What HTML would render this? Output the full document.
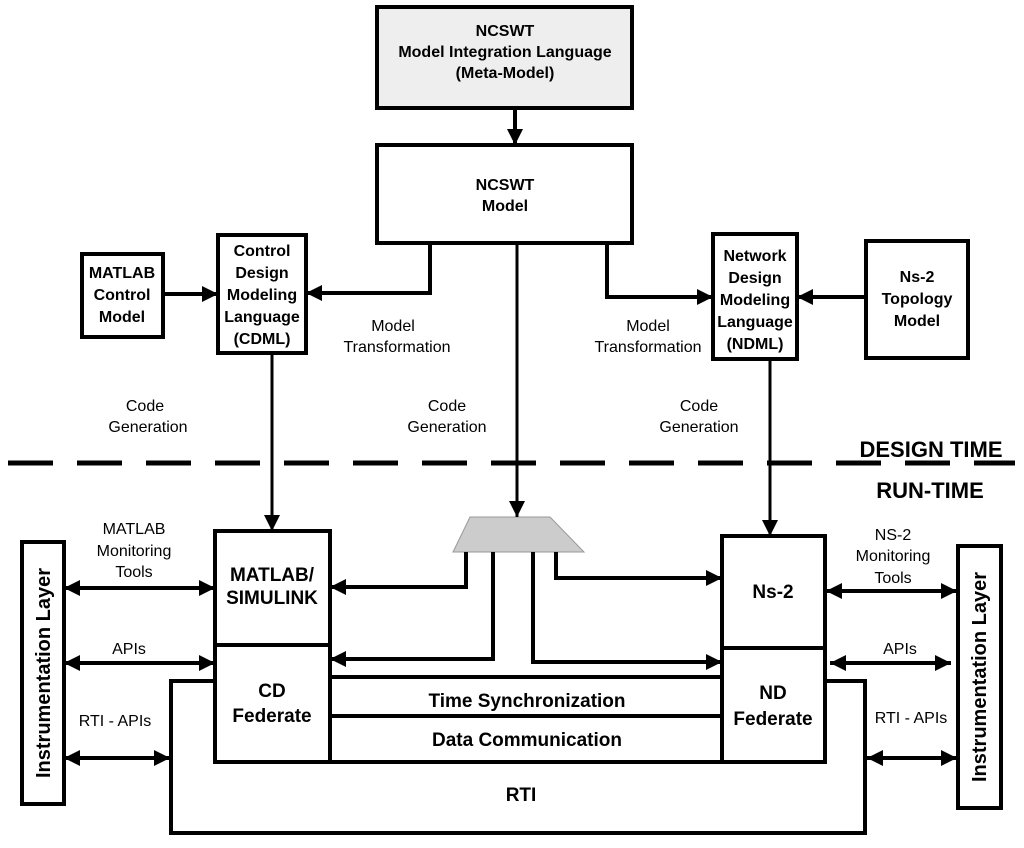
<!DOCTYPE html>
<html><head><meta charset="utf-8"><style>
html,body{margin:0;padding:0;background:#fff;}
svg{display:block;font-family:"Liberation Sans",Arial,sans-serif;}
.b{font-weight:bold;font-size:16px;}
.n{font-size:16px;}
</style></head><body>
<svg width="1024" height="848" viewBox="0 0 1024 848" xmlns="http://www.w3.org/2000/svg">
<defs>
<marker id="A" markerWidth="16" markerHeight="16" refX="16" refY="8" orient="auto-start-reverse" markerUnits="userSpaceOnUse"><path d="M0,0 L16,8 L0,16 z" fill="#000"/></marker>
</defs>
<g fill="none" stroke="#000" stroke-width="4">
<rect x="377" y="7" width="255" height="101" fill="#eeeeee"/>
<rect x="377" y="145" width="255" height="98"/>
<rect x="82" y="254" width="81" height="83"/>
<rect x="218" y="235" width="88" height="118"/>
<rect x="713" y="234" width="84" height="125"/>
<rect x="866" y="241" width="102" height="117"/>
<rect x="22" y="542" width="42" height="262"/>
<rect x="958" y="546" width="43" height="262"/>
<rect x="215" y="531" width="115" height="231"/>
<line x1="215" y1="645" x2="330" y2="645"/>
<rect x="722" y="536" width="103" height="226"/>
<line x1="722" y1="648" x2="825" y2="648"/>
<path d="M215,681 H171 V833 H865 V681 H825"/>
<line x1="330" y1="677" x2="722" y2="677"/>
<line x1="330" y1="716" x2="722" y2="716"/>
<line x1="330" y1="762" x2="722" y2="762"/>
</g>
<polygon points="470,517 550,517 584,552 453,552" fill="#cccccc" stroke="#999" stroke-width="1"/>
<g fill="none" stroke="#000" stroke-width="4">
<line x1="515" y1="108" x2="515" y2="145" marker-end="url(#A)" />
<line x1="163" y1="294" x2="218" y2="294" marker-end="url(#A)"/>
<path d="M430,243 V293 H306" marker-end="url(#A)"/>
<path d="M607,243 V297 H713" marker-end="url(#A)"/>
<line x1="866" y1="297" x2="797" y2="297" marker-end="url(#A)"/>
<line x1="517" y1="243" x2="517" y2="517" stroke-width="3" marker-end="url(#A)"/>
<line x1="272" y1="353" x2="272" y2="531" stroke-width="3" marker-end="url(#A)"/>
<line x1="770" y1="359" x2="770" y2="536" stroke-width="3" marker-end="url(#A)"/>
<path d="M466,552 V587 H330" marker-end="url(#A)"/>
<path d="M493,552 V659 H330" marker-end="url(#A)"/>
<path d="M533,552 V662 H722" marker-end="url(#A)"/>
<path d="M556,552 V578 H722" marker-end="url(#A)"/>
<line x1="64" y1="588" x2="215" y2="588" marker-start="url(#A)" marker-end="url(#A)"/>
<line x1="64" y1="663" x2="215" y2="663" marker-start="url(#A)" marker-end="url(#A)"/>
<line x1="64" y1="758" x2="170" y2="758" marker-start="url(#A)" marker-end="url(#A)"/>
<line x1="826" y1="591" x2="957" y2="591" marker-start="url(#A)" marker-end="url(#A)"/>
<line x1="830" y1="663" x2="951" y2="663" marker-start="url(#A)" marker-end="url(#A)"/>
<line x1="867" y1="758" x2="957" y2="758" marker-start="url(#A)" marker-end="url(#A)"/>
<line x1="8" y1="463" x2="1015" y2="463" stroke-width="5" stroke-dasharray="45 24"/>
</g>
<g class="b" text-anchor="middle">
<text x="505" y="36">NCSWT</text>
<text x="505" y="57">Model Integration Language</text>
<text x="505" y="78">(Meta-Model)</text>
<text x="505" y="190">NCSWT</text>
<text x="505" y="211">Model</text>
<text x="122" y="278">MATLAB</text>
<text x="122" y="300">Control</text>
<text x="122" y="322">Model</text>
<text x="262" y="256">Control</text>
<text x="262" y="278">Design</text>
<text x="262" y="300">Modeling</text>
<text x="262" y="322">Language</text>
<text x="262" y="344">(CDML)</text>
<text x="755" y="261">Network</text>
<text x="755" y="283">Design</text>
<text x="755" y="305">Modeling</text>
<text x="755" y="327">Language</text>
<text x="755" y="349">(NDML)</text>
<text x="917" y="282">Ns-2</text>
<text x="917" y="304">Topology</text>
<text x="917" y="326">Model</text>
<text x="272" y="581" font-size="19">MATLAB/</text>
<text x="272" y="604" font-size="19">SIMULINK</text>
<text x="272" y="697" font-size="19">CD</text>
<text x="272" y="722" font-size="19">Federate</text>
<text x="773" y="598" font-size="19">Ns-2</text>
<text x="773" y="699" font-size="19">ND</text>
<text x="773" y="725" font-size="19">Federate</text>
<text x="527" y="707" font-size="19">Time Synchronization</text>
<text x="527" y="746" font-size="19">Data Communication</text>
<text x="521" y="801" font-size="19">RTI</text>
<text x="931" y="457" font-size="22">DESIGN TIME</text>
<text x="930" y="498" font-size="22">RUN-TIME</text>
<text transform="translate(50,673) rotate(-90)" font-size="20">Instrumentation Layer</text>
<text transform="translate(986,677) rotate(-90)" font-size="20">Instrumentation Layer</text>
</g>
<g class="n" text-anchor="middle">
<text x="393" y="331">Model</text>
<text x="397" y="352">Transformation</text>
<text x="648" y="331">Model</text>
<text x="648" y="352">Transformation</text>
<text x="145" y="411">Code</text>
<text x="148" y="432">Generation</text>
<text x="447" y="411">Code</text>
<text x="447" y="432">Generation</text>
<text x="699" y="411">Code</text>
<text x="699" y="432">Generation</text>
<text x="134" y="534">MATLAB</text>
<text x="134" y="556">Monitoring</text>
<text x="134" y="577">Tools</text>
<text x="129" y="654">APIs</text>
<text x="115" y="726">RTI - APIs</text>
<text x="893" y="540">NS-2</text>
<text x="893" y="561">Monitoring</text>
<text x="893" y="583">Tools</text>
<text x="900" y="654">APIs</text>
<text x="911" y="723">RTI - APIs</text>
</g>
</svg>
</body></html>
